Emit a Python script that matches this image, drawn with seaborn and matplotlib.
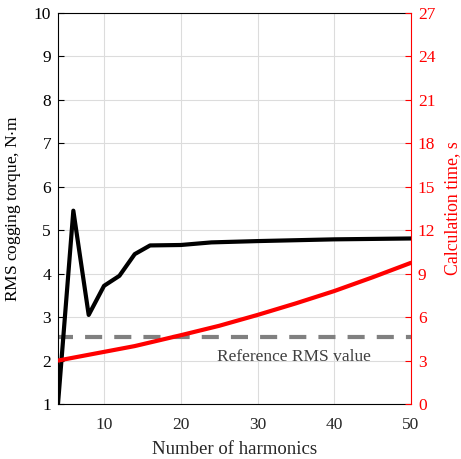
import matplotlib
matplotlib.use("Agg")
import matplotlib.pyplot as plt
import seaborn as sns
import pandas as pd

# Number of harmonics vs RMS cogging torque
harm_torque = [4, 6, 8, 10, 12, 14, 16, 20, 24, 30, 40, 50]
rms_torque = [1.0, 5.45, 3.05, 3.72, 3.95, 4.45, 4.65, 4.66, 4.72, 4.75, 4.79, 4.81]

# Number of harmonics vs calculation time
harm_time = [4, 6, 8, 10, 12, 14, 16, 18, 20, 25, 30, 35, 40, 45, 50]
calc_time = [3.0, 3.2, 3.4, 3.6, 3.8, 4.0, 4.25, 4.5, 4.75, 5.4, 6.15, 6.95, 7.8, 8.75, 9.75]

reference_rms = 2.55

sns.set_theme(style="white")
plt.rcParams["font.family"] = ["Liberation Serif", "DejaVu Serif"]
plt.rcParams["mathtext.fontset"] = "stix"

fig = plt.figure(figsize=(4.61, 4.59), dpi=100)
ax = fig.add_axes([0.1258, 0.1198, 0.7657, 0.8519])
ax2 = ax.twinx()

df_t = pd.DataFrame({"n": harm_torque, "rms": rms_torque})
df_c = pd.DataFrame({"n": harm_time, "t": calc_time})

ax.axhline(reference_rms, color="#808080", lw=3.0, ls=(0.5, (4.1, 2.9)), zorder=2)
sns.lineplot(data=df_t, x="n", y="rms", ax=ax, color="black", lw=3, zorder=3)
sns.lineplot(data=df_c, x="n", y="t", ax=ax2, color="#ff0000", lw=3, zorder=3)

ax.set_xlim(4, 50)
ax.set_ylim(1, 10)
ax2.set_ylim(0, 27)
ax.set_xticks([10, 20, 30, 40, 50])
ax.set_yticks(range(1, 11))
ax2.set_yticks(range(0, 28, 3))

ax.grid(True, color="#dcdcdc", lw=0.8)
ax.set_axisbelow(True)

ax.set_xlabel("Number of harmonics", fontsize=13.5, color="#262626", labelpad=6)
ax.set_ylabel("RMS cogging torque, N$\\cdot$m", fontsize=12.5, color="black", labelpad=8)
ax2.set_ylabel("Calculation time, s", fontsize=12.8, color="#ff0000", labelpad=6)

ax.tick_params(axis="x", direction="in", length=4, width=0.8, labelsize=12.5,
               colors="black", labelcolor="#262626", pad=9)
ax.tick_params(axis="y", direction="in", length=4, width=0.8, labelsize=12.5,
               colors="black", labelcolor="black", pad=5)
ax2.tick_params(axis="y", direction="in", length=4, width=0.8, labelsize=12.5,
                colors="#ff0000", pad=5)

for s in ["left", "bottom", "top"]:
    ax.spines[s].set_color("black")
    ax.spines[s].set_linewidth(0.8)
ax.spines["right"].set_visible(False)
ax2.spines["right"].set_color("#ff0000")
ax2.spines["right"].set_linewidth(0.8)
for s in ["left", "bottom", "top"]:
    ax2.spines[s].set_visible(False)

ax.text(34.8, 2.08, "Reference RMS value", fontsize=12.5, color="#404040",
        ha="center", va="center")

fig.savefig("out.png", dpi=100)
